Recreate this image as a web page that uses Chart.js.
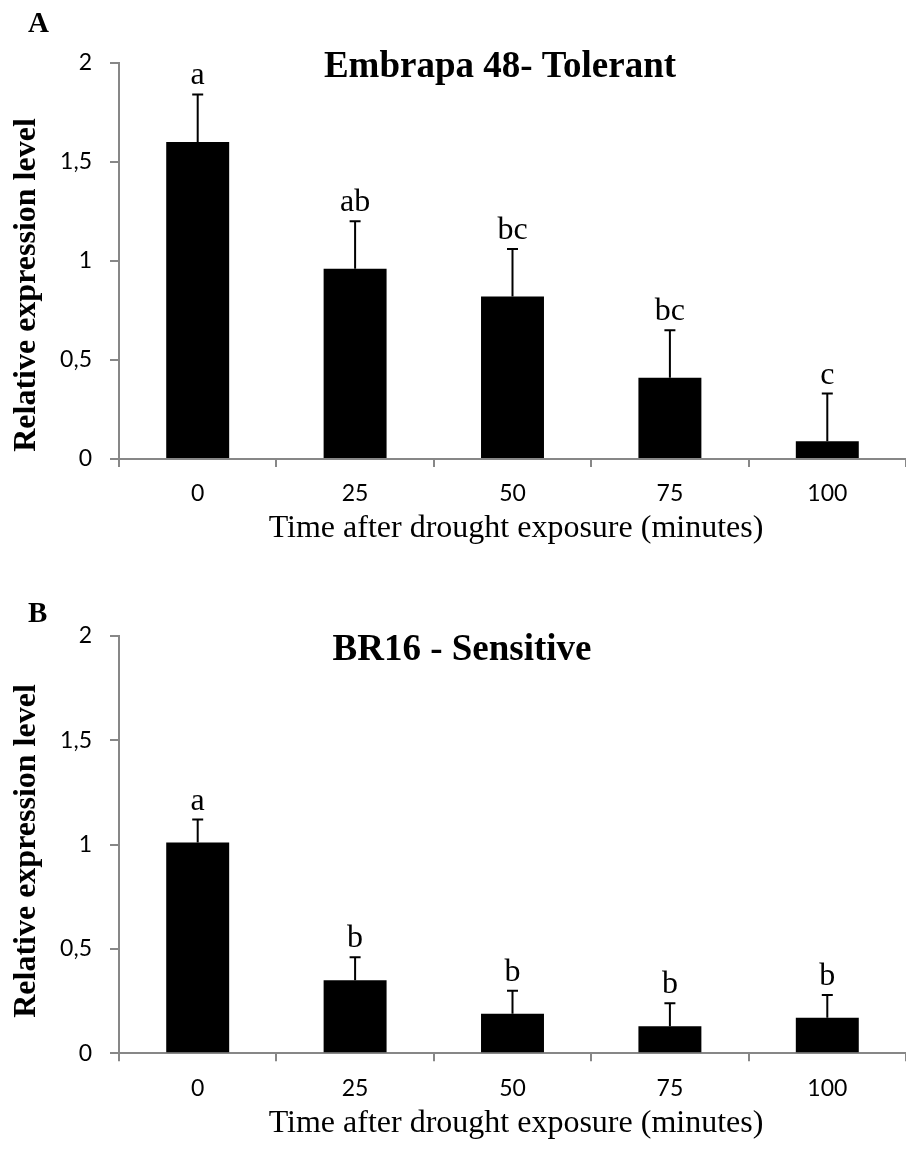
<!DOCTYPE html>
<html>
<head>
<meta charset="utf-8">
<script src="https://cdn.jsdelivr.net/npm/chart.js@4.4.1/dist/chart.umd.min.js"></script>
<style>
  html, body { margin: 0; padding: 0; background: #fff; }
  #wrap { position: relative; width: 906px; height: 1149px; }
  .pane { position: absolute; left: 0; width: 906px; }
  #paneA { top: 0; height: 575px; }
  #paneB { top: 575px; height: 574px; }
  canvas { display: block; }
</style>
</head>
<body>
<div id="wrap">
  <div class="pane" id="paneA"><canvas id="chartA" width="906" height="575"></canvas></div>
  <div class="pane" id="paneB"><canvas id="chartB" width="906" height="574"></canvas></div>
</div>
<script>
// ---- data ----
const categories = ['0', '25', '50', '75', '100'];
const yTickValues = [0, 0.5, 1, 1.5, 2];

const tolerantMeans = [1.60, 0.96, 0.82, 0.41, 0.09];
const tolerantErrors = [0.24, 0.24, 0.24, 0.24, 0.24];
const tolerantLetters = ['a', 'ab', 'bc', 'bc', 'c'];

const sensitiveMeans = [1.01, 0.35, 0.19, 0.13, 0.17];
const sensitiveErrors = [0.11, 0.11, 0.11, 0.11, 0.11];
const sensitiveLetters = ['a', 'b', 'b', 'b', 'b'];

const panelA = { letter: 'A', title: 'Embrapa 48- Tolerant' };
const panelB = { letter: 'B', title: 'BR16 - Sensitive' };
const yTitle = 'Relative expression level';
const xTitle = 'Time after drought exposure (minutes)';

const AXIS_GRAY = '#878787';
const SERIF = '"Liberation Serif", "Times New Roman", serif';
const SANS = 'Lato, "Liberation Sans", sans-serif';

function fmtTick(v) { return String(v).replace('.', ','); }

const errorBarPlugin = {
  id: 'errorBars',
  afterDatasetsDraw(chart, args, opts) {
    const ctx = chart.ctx;
    const meta = chart.getDatasetMeta(0);
    const ys = chart.scales.y;
    ctx.save();
    meta.data.forEach((bar, i) => {
      const top = ys.getPixelForValue(opts.means[i] + opts.errors[i]);
      ctx.strokeStyle = '#000';
      ctx.lineWidth = 2;
      ctx.beginPath();
      ctx.moveTo(bar.x, bar.y);
      ctx.lineTo(bar.x, top);
      ctx.moveTo(bar.x - 5.5, top);
      ctx.lineTo(bar.x + 5.5, top);
      ctx.stroke();
      ctx.fillStyle = '#000';
      ctx.font = '32px ' + SERIF;
      ctx.textAlign = 'center';
      ctx.textBaseline = 'alphabetic';
      ctx.fillText(opts.letters[i], bar.x, top - 10);
    });
    ctx.restore();
  }
};

const textPlugin = {
  id: 'panelTexts',
  afterDraw(chart, args, o) {
    const ctx = chart.ctx;
    ctx.save();
    ctx.fillStyle = '#000';
    ctx.textBaseline = 'alphabetic';
    // panel letter
    ctx.textAlign = 'left';
    ctx.font = 'bold 29px ' + SERIF;
    ctx.fillText(o.letter, 28, o.letterY);
    // title
    ctx.textAlign = 'center';
    ctx.font = 'bold 37px ' + SERIF;
    ctx.fillText(o.title, o.titleX, o.titleY);
    // x title
    ctx.font = '32px ' + SERIF;
    ctx.fillText(o.xTitle, o.xTitleX, o.xTitleY);
    // y title
    ctx.translate(35, o.yTitleY);
    ctx.rotate(-Math.PI / 2);
    ctx.font = 'bold 32px ' + SERIF;
    ctx.fillText(o.yTitle, 0, 0);
    ctx.restore();
  }
};

function makeConfig(means, errors, letters, panel, geom) {
  return {
    type: 'bar',
    data: {
      labels: categories,
      datasets: [{
        data: means,
        backgroundColor: '#000',
        borderWidth: 0,
        categoryPercentage: 1.0,
        barPercentage: 0.4
      }]
    },
    options: {
      responsive: false,
      animation: false,
      events: [],
      layout: { padding: { left: 0, right: 0, top: geom.top, bottom: 0 } },
      plugins: {
        legend: { display: false },
        tooltip: { enabled: false },
        title: { display: false },
        errorBars: { means: means, errors: errors, letters: letters },
        panelTexts: {
          letter: panel.letter, title: panel.title, yTitle: yTitle, xTitle: xTitle,
          letterY: geom.letterY, titleX: geom.titleX, titleY: geom.titleY,
          xTitleX: 516, xTitleY: geom.xTitleY, yTitleY: geom.yTitleY
        }
      },
      scales: {
        x: {
          offset: true,
          grid: {
            offset: true, drawOnChartArea: false, drawTicks: true,
            tickLength: 8, color: AXIS_GRAY, lineWidth: 2
          },
          border: { display: true, color: AXIS_GRAY, width: 2 },
          ticks: {
            color: '#000', padding: 13,
            font: { family: SANS, size: 23 }
          },
          afterFit(scale) { scale.height = geom.xHeight; }
        },
        y: {
          min: 0, max: 2,
          afterBuildTicks(scale) { scale.ticks = yTickValues.map(v => ({ value: v })); },
          grid: {
            drawOnChartArea: false, drawTicks: true,
            tickLength: 9, color: AXIS_GRAY, lineWidth: 2
          },
          border: { display: true, color: AXIS_GRAY, width: 2 },
          ticks: {
            color: '#000', padding: 18,
            font: { family: SANS, size: 23 },
            callback: (v) => fmtTick(v)
          },
          afterFit(scale) { scale.width = 119; }
        }
      }
    },
    plugins: [errorBarPlugin, textPlugin]
  };
}

new Chart(document.getElementById('chartA'),
  makeConfig(tolerantMeans, tolerantErrors, tolerantLetters, panelA,
    { top: 62.7, xHeight: 116, letterY: 32, titleX: 500, titleY: 77, xTitleY: 537, yTitleY: 285 }));

new Chart(document.getElementById('chartB'),
  makeConfig(sensitiveMeans, sensitiveErrors, sensitiveLetters, panelB,
    { top: 61, xHeight: 95.7, letterY: 47, titleX: 462, titleY: 85, xTitleY: 557, yTitleY: 276 }));
</script>
</body>
</html>
